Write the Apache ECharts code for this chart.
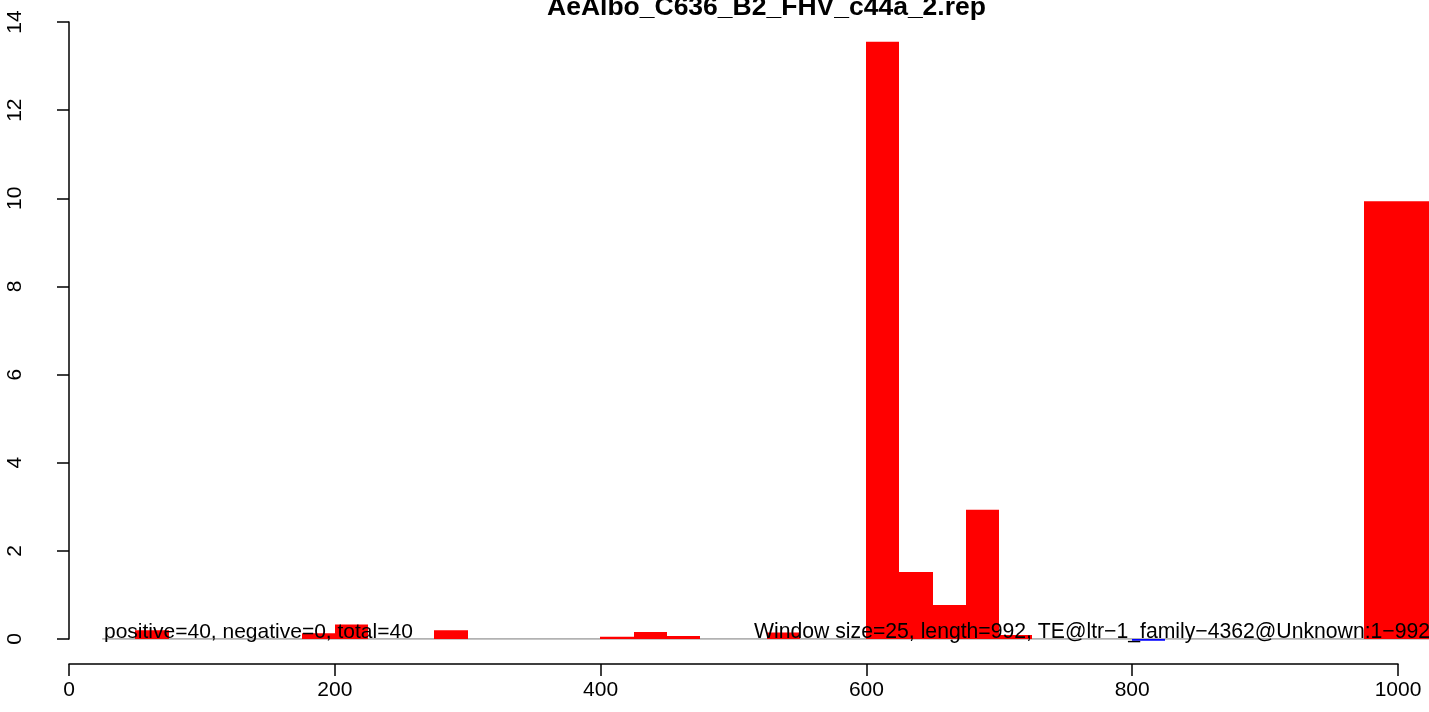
<!DOCTYPE html>
<html>
<head>
<meta charset="utf-8">
<script src="https://cdn.jsdelivr.net/npm/echarts@6/dist/echarts.min.js"></script>
<style>
html,body{margin:0;padding:0;background:#fff;}
#chart{width:1429px;height:712px;}
</style>
</head>
<body>
<div id="chart"></div>
<script>
const titleText = "AeAlbo_C636_B2_FHV_c44a_2.rep";
const windowSize = 25;
const posStarts = [50, 175, 200, 275, 400, 425, 450, 525, 600, 625, 650, 675, 700, 975, 1000];
const posValues = [0.2, 0.13, 0.33, 0.2, 0.05, 0.16, 0.07, 0.15, 13.55, 1.52, 0.77, 2.93, 0.09, 9.93, 9.93];
const negStarts = [800];
const negValues = [-0.04];
const xTicks = [0, 200, 400, 600, 800, 1000];
const yTicks = [0, 2, 4, 6, 8, 10, 12, 14];
const baseline = [[25, 0], [1030, 0]];
const leftNote = "positive=40, negative=0, total=40";
const rightNote = "Window size=25, length=992, TE@ltr\u22121_family\u22124362@Unknown:1\u2212992";

const FONT = "'Liberation Sans', Arial, Helvetica, sans-serif";
const chart = echarts.init(document.getElementById('chart'), null, {renderer: 'canvas'});

function barRender(color) {
  return function (params, api) {
    const x0 = api.value(0);
    const v = api.value(1);
    const p0 = api.coord([x0, 0]);
    const p1 = api.coord([x0 + windowSize, v]);
    const xa = Math.round(p0[0]), xb = Math.round(p1[0]);
    const ya = Math.min(p0[1], p1[1]), yb = Math.max(p0[1], p1[1]);
    return {
      type: 'rect',
      shape: {x: xa, y: ya, width: xb - xa, height: yb - ya},
      style: {fill: color}
    };
  };
}

const option = {
  animation: false,
  backgroundColor: '#fff',
  textStyle: {fontFamily: FONT},
  title: {
    text: titleText,
    left: 547, top: -6, padding: 0,
    textStyle: {fontSize: 26.5, fontWeight: 'bold', color: '#000', fontFamily: FONT}
  },
  grid: [
    {left: 50, right: 0, top: 22, bottom: 73},
    {left: 69, right: 31, top: 500, bottom: 48}
  ],
  xAxis: [
    {gridIndex: 0, type: 'value', min: -14.3, max: 1023.6, show: false},
    {gridIndex: 1, type: 'value', min: 0, max: 1000, interval: 200,
      axisLine: {show: true, lineStyle: {color: '#000', width: 1.5}},
      axisTick: {show: true, inside: false, length: 12, lineStyle: {color: '#000', width: 1.5}},
      axisLabel: {fontSize: 21, color: '#000', margin: 16, fontFamily: FONT,
        formatter: v => xTicks.includes(v) ? String(v) : ''},
      splitLine: {show: false}}
  ],
  yAxis: [
    {gridIndex: 0, type: 'value', min: 0, max: 14, interval: 2,
      axisLine: {show: true, lineStyle: {color: '#000', width: 1.5}},
      axisTick: {show: true, inside: false, length: 12, lineStyle: {color: '#000', width: 1.5}},
      axisLabel: {fontSize: 21, color: '#000', rotate: 90, margin: 24, fontFamily: FONT,
        formatter: v => yTicks.includes(v) ? String(v) : ''},
      splitLine: {show: false}},
    {gridIndex: 1, type: 'value', show: false}
  ],
  series: [
    {type: 'line', xAxisIndex: 0, yAxisIndex: 0, data: baseline, symbol: 'none',
      lineStyle: {color: '#999999', width: 1.5}, silent: true, z: 1},
    {type: 'custom', xAxisIndex: 0, yAxisIndex: 0, clip: false, z: 2,
      data: posStarts.map((s, i) => [s, posValues[i]]), renderItem: barRender('#ff0000')},
    {type: 'custom', xAxisIndex: 0, yAxisIndex: 0, clip: false, z: 2,
      data: negStarts.map((s, i) => [s, negValues[i]]), renderItem: barRender('#0000ff')}
  ],
  graphic: [
    {type: 'text', left: 104, top: 622, z: 100,
      style: {text: leftNote, fontSize: 21, fill: '#000', fontFamily: FONT}},
    {type: 'text', left: 754, top: 622, z: 100,
      style: {text: rightNote, fontSize: 21.2, fill: '#000', fontFamily: FONT}}
  ]
};
chart.setOption(option);
</script>
</body>
</html>
